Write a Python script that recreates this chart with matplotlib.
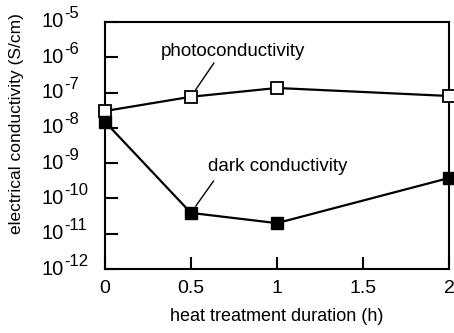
import matplotlib
matplotlib.use('Agg')
import matplotlib.pyplot as plt
from matplotlib.ticker import FixedLocator, NullFormatter
from matplotlib.transforms import offset_copy

plt.rcParams['font.family'] = ['Liberation Sans', 'DejaVu Sans']

# heat treatment duration (h)
hours = [0, 0.5, 1, 2]
# conductivities (S/cm)
photo = [3.0e-8, 7.6e-8, 1.35e-7, 8.0e-8]
dark = [1.5e-8, 3.9e-11, 2.0e-11, 3.8e-10]

x_ticks = [0, 0.5, 1, 1.5, 2]
x_tick_labels = ['0', '0.5', '1', '1.5', '2']
y_exps = [-12, -11, -10, -9, -8, -7, -6, -5]

fig = plt.figure(figsize=(4.54, 3.33), dpi=100)
ax = fig.add_axes([0.231, 0.192, 0.758, 0.742])

ax.plot(hours, photo, color='black', lw=1.6, marker='s', ms=9,
        mfc='white', mec='black', mew=1.3, clip_on=False, zorder=3)
ax.plot(hours, dark, color='black', lw=1.6, marker='s', ms=9,
        mfc='black', mec='black', clip_on=False, zorder=3)

ax.set_yscale('log')
ax.set_xlim(0, 2)
ax.set_ylim(1e-12, 1e-5)

ax.yaxis.set_major_locator(FixedLocator([10.0 ** e for e in y_exps]))
ax.yaxis.set_minor_locator(FixedLocator([]))
ax.yaxis.set_major_formatter(NullFormatter())
ax.yaxis.set_minor_formatter(NullFormatter())
ax.set_xticks(x_ticks)
ax.set_xticklabels(x_tick_labels)

ax.tick_params(direction='in', length=9, width=1.5, labelsize=14,
               top=False, right=False, pad=8)
for s in ax.spines.values():
    s.set_linewidth(1.5)

# y tick labels: "10" with a raised exponent, left aligned like the original
ytrans = ax.get_yaxis_transform()
exp_trans = offset_copy(ytrans, fig=fig, x=0, y=8, units='dots')
for e in y_exps:
    ax.text(-0.183, 10.0 ** e, '10', transform=ytrans, ha='left',
            va='center', fontsize=14.5)
    ax.text(-0.117, 10.0 ** e, '%d' % e, transform=exp_trans, ha='left',
            va='center', fontsize=12)

ax.set_xlabel('heat treatment duration (h)', fontsize=13, labelpad=8)
ax.set_ylabel('electrical conductivity (S/cm)', fontsize=12.5)
ax.yaxis.set_label_coords(-0.235, 0.59)

ax.annotate('photoconductivity', xy=(hours[1], photo[1]), xytext=(0.744, 8.3e-7),
            fontsize=13.5, ha='center', va='bottom',
            arrowprops=dict(arrowstyle='-', color='black', lw=1.0,
                            shrinkA=0, shrinkB=6, relpos=(0.39, 0.1)))
ax.annotate('dark conductivity', xy=(hours[1], dark[1]), xytext=(1.006, 4.7e-10),
            fontsize=13.5, ha='center', va='bottom',
            arrowprops=dict(arrowstyle='-', color='black', lw=1.0,
                            shrinkA=3, shrinkB=6, relpos=(0.07, 0)))

fig.savefig('out.png', dpi=100)
